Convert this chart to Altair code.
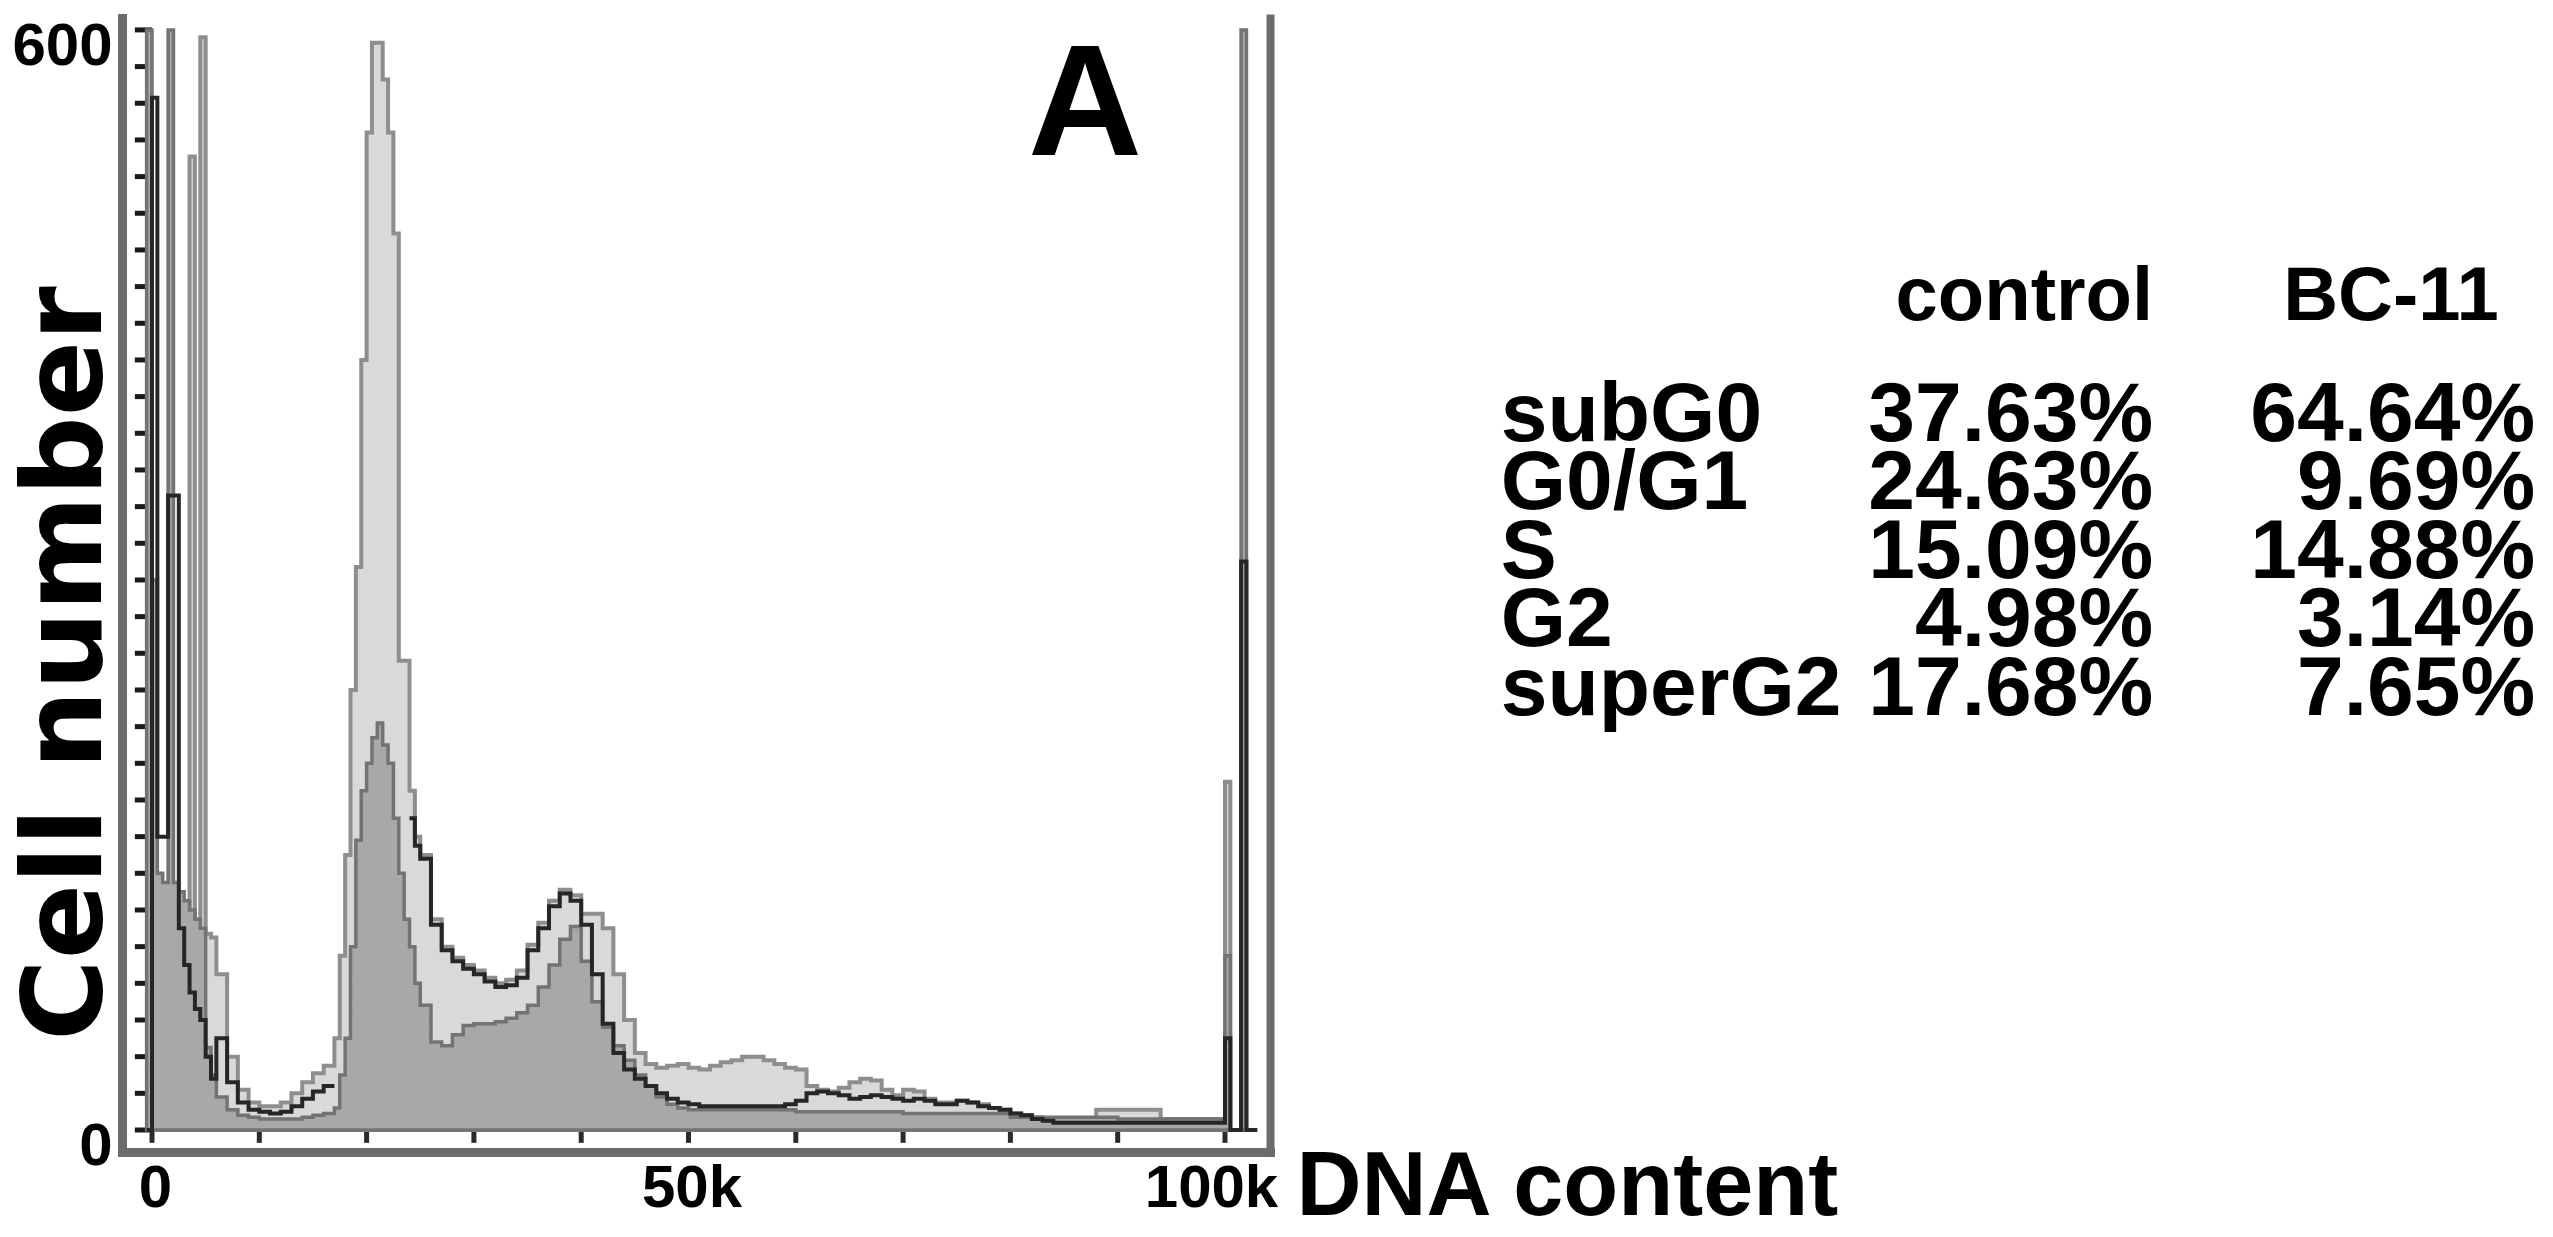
import altair as alt
import pandas as pd

# ---------------- data ----------------
# histogram bin starts (thousands of DNA-content units); last bin ends at 103
bin_start_k = ([-0.5, 0, 0.5, 1.0, 1.5, 2.0, 2.5, 3.0, 3.5, 4.0, 4.5, 5.0, 5.5]
               + [6, 7, 8, 9, 10, 11, 12, 13, 14, 15, 16]
               + [17, 17.5, 18, 18.5, 19, 19.5, 20, 20.5, 21, 21.5, 22, 22.5, 23, 23.5, 24, 24.5]
               + list(range(25, 99))
               + [99, 99.5, 100, 100.5, 101, 101.5, 102, 102.5])
bin_end_k = 103

# light-grey filled histogram
light_counts = ([0, 0, 40, 40, 40, 40, 40, 40, 531, 60, 596, 107, 105]
                + [85, 40, 22, 15, 13, 13, 15, 20, 26, 31, 35]
                + [50, 95, 150, 240, 307, 420, 544, 593, 593, 573, 544, 489, 256, 256, 185, 160]
                + [150, 115, 100, 94, 90, 87, 83, 80, 82, 87, 101, 113, 125, 131, 128, 118, 118, 110, 85, 60,
                   42, 36, 34, 35, 36, 34, 33, 35, 37, 38, 40, 40, 38, 36, 34, 33, 24, 22, 21, 23,
                   26, 28, 27, 22, 19, 22, 21, 17, 15, 15, 16, 15, 14, 12, 11, 9, 8, 7, 6, 6,
                   6, 6, 6, 11, 11, 11, 11, 11, 11, 6, 6, 6, 6, 6]
                + [6, 6, 190, 0, 0, 0, 0, 0])

# medium-grey filled histogram
dark_counts = ([600, 300, 140, 135, 600, 135, 130, 125, 120, 115, 110, 45, 30]
               + [18, 11, 8, 7, 6, 6, 6, 6, 7, 8, 9]
               + [12, 30, 50, 100, 158, 185, 200, 214, 222, 210, 200, 170, 140, 115, 100, 80]
               + [68, 48, 46, 52, 57, 58, 58, 59, 61, 64, 68, 78, 90, 104, 111, 92, 70, 56, 46, 38,
                  30, 24, 18, 14, 12, 11, 11, 11, 11, 11, 11, 11, 11, 11, 11, 10, 10, 10, 10, 10,
                  10, 10, 10, 10, 10, 9, 9, 9, 9, 9, 9, 9, 9, 9, 9, 7, 7, 7, 7, 7,
                  7, 7, 7, 7, 7, 6, 6, 6, 6, 6, 6, 6, 6, 6]
               + [6, 6, 95, 0, 0, 600, 0, 0])

# black outline-only histogram (None = not drawn)
black_counts = ([0, 563, 160, 160, 346, 346, 110, 90, 75, 66, 60, 40, 28]
                + [50, 26, 15, 11, 10, 9, 10, 13, 17, 21, 24]
                + [None, None, None, None, None, None, None, None, None, None, None, None, None, None, 170, 155]
                + [148, 112, 98, 92, 88, 85, 81, 78, 79, 83, 98, 110, 122, 129, 125, 112, 85, 58, 42, 33,
                   28, 24, 20, 17, 15, 14, 13, 13, 13, 13, 13, 13, 13, 13, 14, 16, 20, 21, 20, 19,
                   17, 18, 19, 18, 17, 16, 17, 16, 14, 14, 16, 15, 13, 12, 11, 9, 8, 6, 5, 4,
                   4, 4, 4, 4, 4, 4, 4, 4, 4, 4, 4, 4, 4, 4]
                + [4, 4, 50, 0, 0, 310, 0, 0])

x_label_vals = [0, 50000, 100000]
x_minor_ticks = [0, 10000, 20000, 30000, 40000, 50000, 60000, 70000, 80000, 90000, 100000]
y_label_vals = [0, 600]
y_minor_ticks = list(range(0, 601, 20))

phases = ["subG0", "G0/G1", "S", "G2", "superG2"]
control_pct = ["37.63%", "24.63%", "15.09%", "4.98%", "17.68%"]
bc11_pct = ["64.64%", "9.69%", "14.88%", "3.14%", "7.65%"]
headers = ["control", "BC-11"]
panel_letter = "A"

# ---------------- build tables ----------------
def area_rows(counts):
    rows = [{"x": s * 1000, "count": v} for s, v in zip(bin_start_k, counts)]
    rows.append({"x": bin_end_k * 1000, "count": 0})
    return pd.DataFrame(rows)

def line_rows(counts):
    rows, seg, idx, prev = [], 0, 0, None
    open_seg = False
    edges = bin_start_k + [bin_end_k]
    for j, v in enumerate(counts):
        if v is None:
            if open_seg:
                rows.append({"x": edges[j] * 1000, "count": prev, "seg": seg, "i": idx}); idx += 1
                seg += 1
                open_seg = False
            continue
        if not open_seg and j == 0:
            rows.append({"x": edges[j] * 1000, "count": 0, "seg": seg, "i": idx}); idx += 1
        rows.append({"x": edges[j] * 1000, "count": v, "seg": seg, "i": idx}); idx += 1
        open_seg = True
        prev = v
    rows.append({"x": bin_end_k * 1000, "count": 0, "seg": seg, "i": idx})
    return pd.DataFrame(rows)

df_light = area_rows(light_counts)
df_dark = area_rows(dark_counts)
df_black = line_rows(black_counts)

df_ytick = pd.DataFrame({"count": y_minor_ticks})
df_xtick = pd.DataFrame({"x": x_minor_ticks})

# table layout (annotation positions in data units)
LABEL_X, CTRL_X, BC_X = 125700, 186500, 222100
HDR_CTRL_X, HDR_BC_X, HDR_Y = 186500, 218700, 442
ROW_Y0, ROW_STEP = 376, 37.4

hdr_cells, left_cells, right_cells = [], [], []
hdr_cells.append({"x": HDR_CTRL_X, "count": HDR_Y, "text": headers[0]})
hdr_cells.append({"x": HDR_BC_X, "count": HDR_Y, "text": headers[1]})
for i, ph in enumerate(phases):
    yy = ROW_Y0 - i * ROW_STEP
    left_cells.append({"x": LABEL_X, "count": yy, "text": ph})
    right_cells.append({"x": CTRL_X, "count": yy, "text": control_pct[i]})
    right_cells.append({"x": BC_X, "count": yy, "text": bc11_pct[i]})
df_hdr = pd.DataFrame(hdr_cells)
df_left = pd.DataFrame(left_cells)
df_right = pd.DataFrame(right_cells)

# ---------------- encodings ----------------
FONT = "Liberation Sans"
FRAME = "#6b6b6b"

XS = alt.Scale(domain=[-2796, 104194], nice=False, zero=False)
YS = alt.Scale(domain=[-12, 606.5], nice=False, zero=False)

X_AXIS = alt.Axis(values=x_label_vals,
                  labelExpr="datum.value == 0 ? '0' : (datum.value / 1000) + 'k'",
                  domain=True, domainColor=FRAME, domainWidth=9, domainCap="square",
                  ticks=False, grid=False,
                  labelFont=FONT, labelFontSize=60, labelFontWeight="bold", labelColor="black",
                  labelPadding=7, labelFlush=False, labelOverlap=False,
                  labelOffset={"condition": {"test": "datum.value == 100000", "value": -14}, "value": 3},
                  title="DNA content", titleFont=FONT, titleFontSize=90, titleFontWeight="bold",
                  titleColor="black", titleX=1174, titleY=62, titleAlign="left",
                  titleBaseline="alphabetic")
X_ENC = alt.X("x:Q", scale=XS, axis=X_AXIS)

Y_LEFT = alt.Y("count:Q", scale=YS,
               axis=alt.Axis(values=y_label_vals, domain=True, domainColor=FRAME, domainWidth=9,
                             domainCap="square", ticks=False, grid=False,
                             labelFont=FONT, labelFontSize=60, labelFontWeight="bold",
                             labelColor="black", labelPadding=10, labelFlush=False,
                             labelOverlap=False, labelOffset=17,
                             title="Cell number", titleFont="DejaVu Sans", titleFontSize=111,
                             titleFontWeight="bold", titleColor="black", titleAngle=270,
                             titleX=-22, titleY=645, titleAlign="center", titleBaseline="alphabetic"))
Y_RIGHT = alt.Y("count:Q", scale=YS,
                axis=alt.Axis(orient="right", domain=True, domainColor=FRAME, domainWidth=8,
                              domainCap="square", ticks=False, labels=False, grid=False, title=None))
Y_PLAIN = alt.Y("count:Q", scale=YS, axis=None)

# ---------------- layers ----------------
ytick_layer = alt.Chart(df_ytick).transform_calculate(x="-1600", x_end="0").mark_rule(
    color="#1a1a1a", strokeWidth=5).encode(y=Y_RIGHT, x=X_ENC, x2="x_end:Q")

xtick_layer = alt.Chart(df_xtick).transform_calculate(count="0", count_end="-7").mark_rule(
    color="#2a2a2a", strokeWidth=5).encode(x=X_ENC, y=Y_PLAIN, y2="count_end:Q")

light_layer = alt.Chart(df_light).mark_area(
    interpolate="step-after", fill="#d9d9d9", stroke="#8e8e8e", strokeWidth=4, opacity=1
).encode(x=X_ENC, y=Y_LEFT)

dark_layer = alt.Chart(df_dark).mark_area(
    interpolate="step-after", fill="#a8a8a8", stroke="#737373", strokeWidth=3.5, opacity=1
).encode(x=X_ENC, y=Y_PLAIN)

black_layer = alt.Chart(df_black).mark_line(
    interpolate="step-after", color="#262626", strokeWidth=4
).encode(x=X_ENC, y=Y_PLAIN, detail="seg:N", order="i:Q")

letter_layer = alt.Chart(pd.DataFrame({"text": [panel_letter]})).transform_calculate(
    x="86950", count="532").mark_text(
    font=FONT, fontSize=158, fontWeight="bold", color="black", align="center",
    baseline="alphabetic").encode(x=X_ENC, y=Y_PLAIN, text="text:N")

hdr_text = alt.Chart(df_hdr).mark_text(
    font=FONT, fontSize=76, fontWeight="bold", color="black", align="right",
    baseline="alphabetic").encode(x=X_ENC, y=Y_PLAIN, text="text:N")

left_text = alt.Chart(df_left).mark_text(
    font=FONT, fontSize=84, fontWeight="bold", color="black", align="left",
    baseline="alphabetic").encode(x=X_ENC, y=Y_PLAIN, text="text:N")

right_text = alt.Chart(df_right).mark_text(
    font=FONT, fontSize=84, fontWeight="bold", color="black", align="right",
    baseline="alphabetic").encode(x=X_ENC, y=Y_PLAIN, text="text:N")

chart = alt.layer(
    ytick_layer, xtick_layer, light_layer, dark_layer, black_layer,
    letter_layer, hdr_text, left_text, right_text
).resolve_axis(y="independent").properties(
    width=1148, height=1134,
    autosize=alt.AutoSizeParams(type="none"),
    padding={"left": 114, "top": 10, "right": 1267, "bottom": 85},
    background="white",
).configure_view(stroke="transparent", strokeWidth=0)

chart.save("out.html", embed_options={"renderer": "svg", "actions": False})
